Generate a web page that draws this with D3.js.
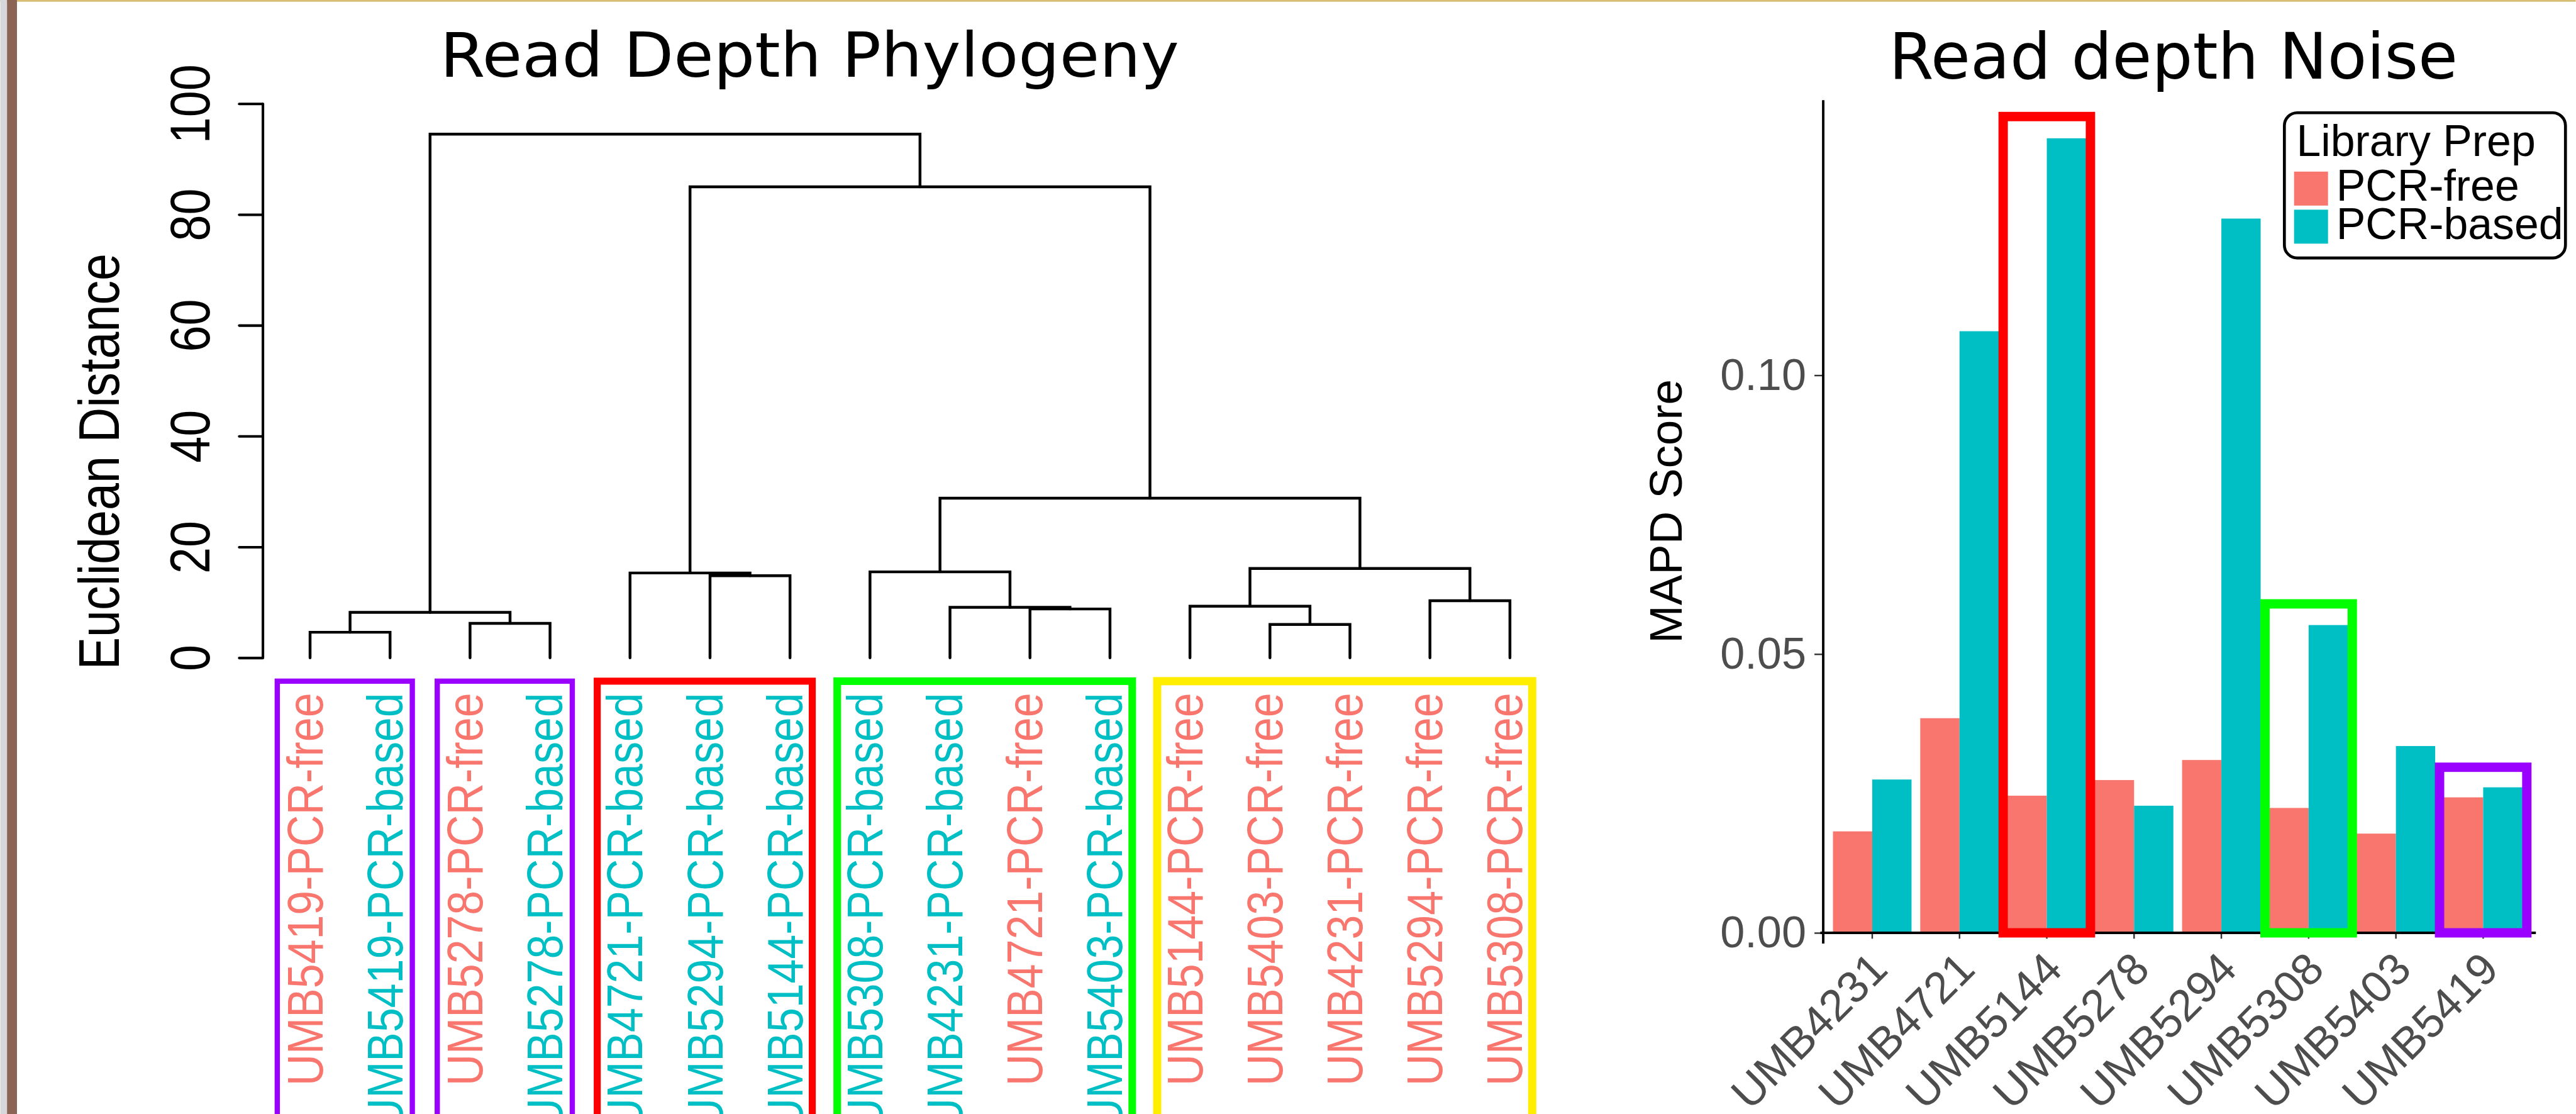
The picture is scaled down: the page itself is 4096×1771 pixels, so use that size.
<!DOCTYPE html>
<html>
<head>
<meta charset="utf-8">
<script src="https://cdn.jsdelivr.net/npm/d3@7"></script>
<style>
  html, body { margin: 0; padding: 0; background: #fff; overflow: hidden; }
  svg { display: block; }
</style>
</head>
<body>
<svg id="chart"></svg>
<script>
// reference is 4398x1902, drawn into 4096x1771 through the viewBox
const W = 4398, H = 1902;

// ---- dendrogram data (R hclust style: negative = leaf, positive = earlier merge)
const leafLabels = [
  "UMB5419-PCR-free", "UMB5419-PCR-based", "UMB5278-PCR-free", "UMB5278-PCR-based",
  "UMB4721-PCR-based", "UMB5294-PCR-based", "UMB5144-PCR-based",
  "UMB5308-PCR-based", "UMB4231-PCR-based", "UMB4721-PCR-free", "UMB5403-PCR-based",
  "UMB5144-PCR-free", "UMB5403-PCR-free", "UMB4231-PCR-free", "UMB5294-PCR-free", "UMB5308-PCR-free",
];
const merges = [
  [-1, -2, 4.6],
  [-3, -4, 6.2],
  [-13, -14, 6.0],
  [1, 2, 8.2],
  [-10, -11, 8.8],
  [-9, 5, 9.1],
  [-12, 3, 9.3],
  [-15, -16, 10.3],
  [-6, -7, 14.8],
  [-5, 9, 15.3],
  [-8, 6, 15.5],
  [7, 8, 16.1],
  [11, 12, 28.8],
  [10, 13, 85.0],
  [4, 14, 94.5],
];
const distTicks = [0, 20, 40, 60, 80, 100];
// leaf index ranges framed under the dendrogram
const leafBoxes = [
  { from: 0, to: 1, color: "#9900ff", sw: 9 },
  { from: 2, to: 3, color: "#9900ff", sw: 9 },
  { from: 4, to: 6, color: "#ff0000", sw: 12 },
  { from: 7, to: 10, color: "#00ff00", sw: 13 },
  { from: 11, to: 15, color: "#ffee00", sw: 14 },
];

// ---- MAPD bar data
const samples = ["UMB4231", "UMB4721", "UMB5144", "UMB5278", "UMB5294", "UMB5308", "UMB5403", "UMB5419"];
const preps = ["PCR-free", "PCR-based"];
const mapdFree = [0.0182, 0.0385, 0.0246, 0.0274, 0.0310, 0.0224, 0.0178, 0.0243];
const mapdBased = [0.0275, 0.1079, 0.1425, 0.0228, 0.1281, 0.0552, 0.0335, 0.0261];
const mapdTicks = [0, 0.05, 0.1];
const barBoxes = [
  { sample: "UMB5144", top: 0.1464, color: "#ff0000" },
  { sample: "UMB5308", top: 0.0590, color: "#00ff00" },
  { sample: "UMB5419", top: 0.0297, color: "#9900ff" },
];

const prepColor = d3.scaleOrdinal(preps, ["#F8766D", "#00BFC4"]);
const helv = "'Liberation Sans', Arial, Helvetica, sans-serif";
const deja = "'DejaVu Sans', sans-serif";

const svg = d3.select("#chart")
  .attr("width", 4096).attr("height", 1771)
  .attr("viewBox", [0, 0, W, H]);

svg.append("rect").attr("width", W).attr("height", H).attr("fill", "#fff");

// ================= left: dendrogram =================
const yDist = d3.scaleLinear().domain([0, 100]).range([1123, 177]);
const xLeaf = d3.scalePoint().domain(leafLabels).range([529, 2578]);

const nodes = [];
const ref = (k) => (k < 0 ? { name: leafLabels[-k - 1], height: 0 } : nodes[k - 1]);
merges.forEach(([a, b, h], i) => { nodes[i] = { height: h, children: [ref(a), ref(b)] }; });
const root = d3.hierarchy(nodes[nodes.length - 1]);
root.eachAfter((n) => {
  n.px = n.children ? (n.children[0].px + n.children[1].px) / 2 : xLeaf(n.data.name);
});

svg.append("text")
  .attr("x", 1382).attr("y", 131)
  .attr("text-anchor", "middle")
  .attr("font-family", deja).attr("font-size", 105)
  .attr("textLength", 1262).attr("lengthAdjust", "spacingAndGlyphs")
  .text("Read Depth Phylogeny");

svg.append("g")
  .attr("fill", "none").attr("stroke", "#000").attr("stroke-width", 4.8)
  .attr("stroke-linecap", "round")
  .selectAll("path")
  .data(root.descendants().filter((n) => n.children))
  .join("path")
  .attr("d", (n) => {
    const [a, b] = n.children;
    return `M${a.px},${yDist(a.data.height)}V${yDist(n.data.height)}H${b.px}V${yDist(b.data.height)}`;
  });

const gDist = svg.append("g")
  .attr("transform", "translate(448,0)")
  .call(d3.axisLeft(yDist).tickValues(distTicks).tickSize(40).tickSizeOuter(0).tickPadding(0));
gDist.attr("font-family", helv).attr("font-size", 81);
gDist.select(".domain").attr("stroke-width", 4.4).attr("stroke-linecap", "round");
gDist.selectAll(".tick line").attr("stroke-width", 4.4).attr("stroke-linecap", "round");
gDist.selectAll(".tick text")
  .attr("x", null).attr("dy", null).attr("fill", "#000")
  .attr("text-anchor", "middle")
  .attr("transform", "translate(-91,0) scale(1.19,1) rotate(-90)");

svg.append("text")
  .attr("transform", "translate(202,788) scale(1.17,1) rotate(-90)")
  .attr("text-anchor", "middle")
  .attr("font-family", helv).attr("font-size", 83)
  .text("Euclidean Distance");

svg.append("g")
  .attr("font-family", helv).attr("font-size", 75)
  .selectAll("text")
  .data(leafLabels)
  .join("text")
  .attr("transform", (d) => `translate(${xLeaf(d) + 21},1183) scale(1.15,1) rotate(-90)`)
  .attr("text-anchor", "end")
  .attr("fill", (d) => prepColor(d.endsWith("free") ? "PCR-free" : "PCR-based"))
  .text((d) => d);

svg.append("g")
  .attr("fill", "none")
  .selectAll("rect")
  .data(leafBoxes)
  .join("rect")
  .attr("x", (d) => xLeaf(leafLabels[d.from]) - 56)
  .attr("width", (d) => xLeaf(leafLabels[d.to]) - xLeaf(leafLabels[d.from]) + 94)
  .attr("y", 1163).attr("height", 900)
  .attr("stroke", (d) => d.color).attr("stroke-width", (d) => d.sw);

// ================= right: MAPD bars =================
const step = (4240 - 3196.7) / 7;
const xSample = d3.scaleBand().domain(samples).range([3196.7 - step / 2, 4240 + step / 2]);
const xPrep = d3.scaleBand().domain(preps).range([0, xSample.bandwidth() * 0.9]);
const yMapd = d3.scaleLinear().domain([0, 0.1]).range([1592.7, 640.7]);

svg.append("text")
  .attr("x", 3711).attr("y", 134)
  .attr("text-anchor", "middle")
  .attr("font-family", deja).attr("font-size", 110)
  .text("Read depth Noise");

const barRows = samples.flatMap((s, i) => [
  { sample: s, prep: "PCR-free", value: mapdFree[i] },
  { sample: s, prep: "PCR-based", value: mapdBased[i] },
]);

svg.append("g")
  .selectAll("rect")
  .data(barRows)
  .join("rect")
  .attr("x", (d) => xSample(d.sample) + xSample.bandwidth() * 0.05 + xPrep(d.prep))
  .attr("width", xPrep.bandwidth())
  .attr("y", (d) => yMapd(d.value))
  .attr("height", (d) => yMapd(0) - yMapd(d.value))
  .attr("fill", (d) => prepColor(d.prep));

const gMy = svg.append("g")
  .attr("transform", "translate(3113,0)")
  .call(d3.axisLeft(yMapd).tickValues(mapdTicks).tickFormat(d3.format(".2f")).tickSize(15).tickPadding(14));
gMy.attr("font-family", helv).attr("font-size", 75.5);
gMy.select(".domain").remove();
gMy.selectAll(".tick line").attr("stroke", "#333").attr("stroke-width", 2.6);
gMy.selectAll(".tick text").attr("fill", "#4d4d4d");

const gMx = svg.append("g")
  .attr("transform", `translate(0,${yMapd(0)})`)
  .call(d3.axisBottom(xSample).tickSize(10).tickSizeOuter(0));
gMx.attr("font-family", helv).attr("font-size", 76);
gMx.select(".domain").remove();
gMx.selectAll(".tick line").attr("stroke", "#333").attr("stroke-width", 2.6);
gMx.selectAll(".tick text")
  .attr("y", null).attr("dy", null).attr("fill", "#4d4d4d")
  .attr("text-anchor", "end")
  .attr("transform", "translate(30,66) rotate(-45)");

// axis lines
svg.append("line").attr("x1", 3113).attr("x2", 3113).attr("y1", 171).attr("y2", 1611)
  .attr("stroke", "#000").attr("stroke-width", 4.2);
svg.append("line").attr("x1", 3108).attr("x2", 4330).attr("y1", yMapd(0)).attr("y2", yMapd(0))
  .attr("stroke", "#000").attr("stroke-width", 4.2);

svg.append("g")
  .attr("fill", "none").attr("stroke-width", 16)
  .selectAll("rect")
  .data(barBoxes)
  .join("rect")
  .attr("x", (d) => xSample(d.sample))
  .attr("width", xSample.bandwidth())
  .attr("y", (d) => yMapd(d.top))
  .attr("height", (d) => yMapd(0) - yMapd(d.top))
  .attr("stroke", (d) => d.color);

svg.append("text")
  .attr("transform", "translate(2871,873) rotate(-90)")
  .attr("text-anchor", "middle")
  .attr("font-family", helv).attr("font-size", 78)
  .text("MAPD Score");

// legend
const legend = svg.append("g").attr("font-family", helv).attr("font-size", 75);
legend.append("rect")
  .attr("x", 3900.5).attr("y", 192.5).attr("width", 480).attr("height", 248).attr("rx", 22)
  .attr("fill", "#fff").attr("stroke", "#000").attr("stroke-width", 5);
legend.append("text").attr("x", 3921).attr("y", 266).text("Library Prep");
const items = legend.selectAll("g.item").data(preps).join("g").attr("class", "item")
  .attr("transform", (d, i) => `translate(3917,${293 + i * 65})`);
items.append("rect").attr("width", 58).attr("height", 58).attr("fill", (d) => prepColor(d));
items.append("text").attr("x", 72).attr("y", 50).text((d) => d);

// page frame
svg.append("rect").attr("x", 0).attr("y", 0).attr("width", W).attr("height", 3).attr("fill", "#d8be74");
svg.append("rect").attr("x", 0).attr("y", 0).attr("width", 11.5).attr("height", H).attr("fill", "#d8d8da");
svg.append("rect").attr("x", 11.5).attr("y", 0).attr("width", 17).attr("height", H).attr("fill", "#8b6456");
</script>
</body>
</html>
